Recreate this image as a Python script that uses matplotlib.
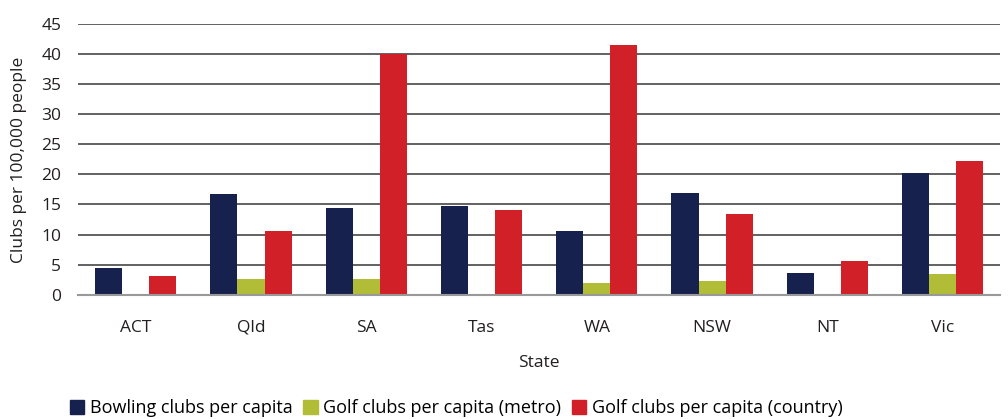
import matplotlib.pyplot as plt
import numpy as np
from matplotlib.patches import Patch

plt.rcParams['font.family'] = ['Open Sans', 'DejaVu Sans']

# data
states = ['ACT', 'Qld', 'SA', 'Tas', 'WA', 'NSW', 'NT', 'Vic']
bowling = [4.4, 16.8, 14.4, 14.7, 10.6, 16.9, 3.6, 20.3]
golf_metro = [0, 2.6, 2.6, 0, 1.9, 2.3, 0, 3.4]
golf_country = [3.1, 10.6, 40.0, 14.05, 41.6, 13.4, 5.6, 22.3]
series_names = ['Bowling clubs per capita', 'Golf clubs per capita (metro)',
                'Golf clubs per capita (country)']
colors = ['#17214e', '#b1bd37', '#d12028']

fig = plt.figure(figsize=(10.08, 4.19), dpi=100)
ax = fig.add_axes([0.0774, 0.297, 0.915, 0.645])

x = np.arange(len(states))
w = 0.235
for i, vals in enumerate([bowling, golf_metro, golf_country]):
    ax.bar(x + (i - 1) * w, vals, width=w, color=colors[i], zorder=3)

ax.set_xlim(-0.5, len(states) - 0.5)
ax.set_ylim(0, 45)
ax.set_yticks(range(0, 46, 5))
ax.set_xticks(x)
ax.set_xticklabels(states)
ax.yaxis.grid(True, color='#555555', lw=1.3, zorder=0)
for s in ['top', 'right', 'left']:
    ax.spines[s].set_visible(False)
ax.spines['bottom'].set_color('#999999')
ax.spines['bottom'].set_linewidth(1.5)
ax.spines['bottom'].set_zorder(4)
ax.tick_params(axis='both', length=0, labelsize=12.5, colors='#231f20')
ax.tick_params(axis='x', pad=18)
ax.tick_params(axis='y', pad=12)
ax.set_xlabel('State', fontsize=12.5, labelpad=14, color='#231f20')
ax.set_ylabel('Clubs per 100,000 people', fontsize=12.5, labelpad=10, color='#231f20')

handles = [Patch(color=c) for c in colors]
fig.legend(handles, series_names, loc='lower left', bbox_to_anchor=(0.053, -0.035),
           ncol=3, frameon=False, fontsize=13, handlelength=0.8, handleheight=0.8,
           handletextpad=0.3, columnspacing=0.6)

fig.savefig('out.png', dpi=100)
